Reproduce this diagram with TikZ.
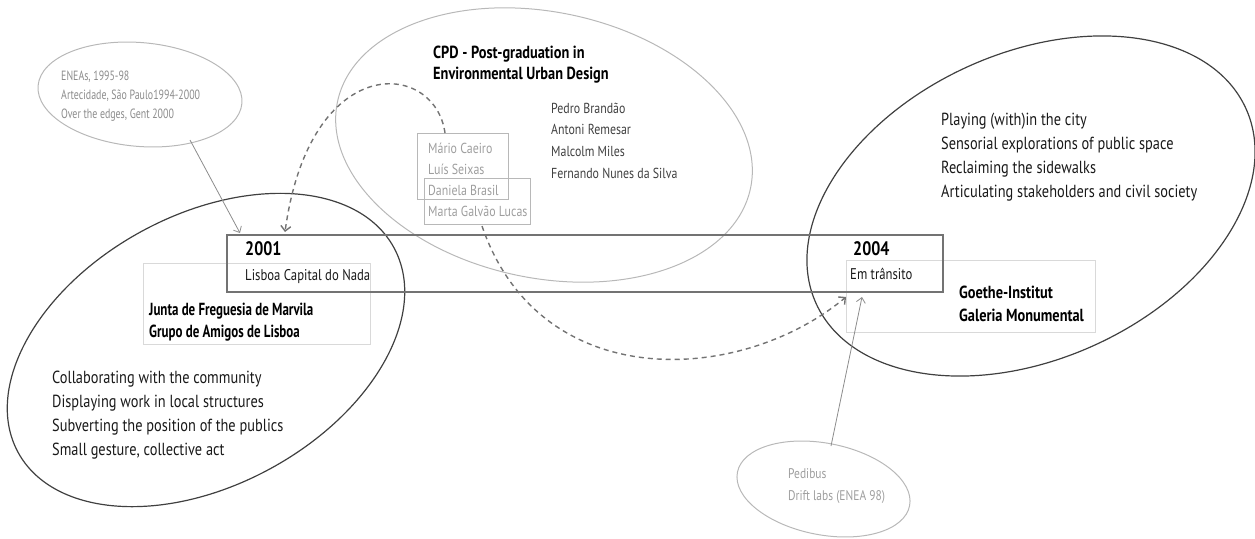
\documentclass[tikz,border=0pt]{standalone}
\usepackage{fontspec}
\setmainfont{PT Sans}[FakeStretch=0.82]
\newfontfamily\condfont{PT Sans}[FakeStretch=0.74]
\usetikzlibrary{shapes.geometric,arrows.meta}

\definecolor{inkdark}{gray}{0.1}
\definecolor{ringdark}{gray}{0.25}
\definecolor{framemid}{gray}{0.45}
\definecolor{ringlight}{gray}{0.72}
\definecolor{boxpale}{gray}{0.85}
\definecolor{textsoft}{gray}{0.55}
\definecolor{textpale}{gray}{0.62}
\definecolor{namesink}{gray}{0.25}

\newcommand{\stack}[1]{\begin{tabular}[t]{@{}l@{}}#1\end{tabular}}

\tikzset{
  ring/.style={ellipse, draw, inner sep=0pt, outer sep=0pt},
  darkring/.style={ring, draw=ringdark, line width=1.2pt},
  lightring/.style={ring, draw=ringlight, line width=1pt},
  frame/.style={draw=framemid, line width=1.4pt},
  palebox/.style={draw=boxpale, line width=1pt},
  namebox/.style={draw=ringlight, line width=1pt},
  txt/.style={anchor=base west, inner sep=0pt, align=left},
  link/.style={draw=textsoft, line width=0.8pt, -{Straight Barb[length=5pt,width=9pt]}},
  dashlink/.style={draw=framemid, line width=1.4pt, dash pattern=on 5pt off 4pt,
                   -{Straight Barb[length=5pt,width=10pt]}}
}

\begin{document}
\begin{tikzpicture}[x=1pt,y=-1pt]
\useasboundingbox (0,0) rectangle (1255,538);

% outline ellipses
\node[lightring, minimum width=204.6pt, minimum height=103.8pt, rotate=-5] (enea) at (140,94.5) {};
\node[lightring, minimum width=422pt, minimum height=266pt, rotate=-11.8] (cpd) at (544,145) {};
\node[darkring, minimum width=428pt, minimum height=270pt, rotate=28.6] (marvila) at (206,350) {};
\node[darkring, minimum width=472pt, minimum height=306pt, rotate=24.4] (goethe) at (1031,206) {};
\node[lightring, minimum width=175.4pt, minimum height=91.6pt, rotate=-11] (pedibus) at (823.5,489) {};

% boxes
\draw[palebox] (143,263) rectangle (370,344);
\draw[palebox] (846,260) rectangle (1095,332);
\draw[frame] (227,235) rectangle (943,292);
\draw[namebox] (417,133) rectangle (508,199);
\draw[namebox] (424,178) rectangle (530,224);

% texts
\node[txt, text=textsoft, font=\condfont\fontsize{13.4}{19}\selectfont] (eneatext) at (61,80)
  {\stack{ENEAs, 1995-98\\Artecidade, São Paulo1994-2000\\Over the edges, Gent 2000}};
\node[txt, text=black, font=\fontsize{17.5}{21}\selectfont\bfseries] (cpdtitle) at (433,58)
  {\stack{CPD - Post-graduation in\\Environmental Urban Design}};
\node[txt, text=namesink, font=\fontsize{14.5}{21.7}\selectfont] (cpdnames) at (551,113)
  {\stack{Pedro Brandão\\Antoni Remesar\\Malcolm Miles\\Fernando Nunes da Silva}};
\node[txt, text=textpale, font=\fontsize{14.5}{21}\selectfont] (links) at (428,153)
  {\stack{Mário Caeiro\\Luís Seixas\\Daniela Brasil\\Marta Galvão Lucas}};

\node[txt, font=\fontsize{19.5}{20}\selectfont\bfseries] (y2001) at (245,255) {2001};
\node[txt, text=inkdark, font=\fontsize{15.5}{20}\selectfont] (lisboa) at (245,280) {Lisboa Capital do Nada};
\node[txt, font=\fontsize{19.5}{20}\selectfont\bfseries] (y2004) at (853,255) {2004};
\node[txt, text=inkdark, font=\fontsize{15.5}{20}\selectfont] (transito) at (850,279) {Em trânsito};

\node[txt, font=\condfont\fontsize{17.5}{22}\selectfont\bfseries] (junta) at (149,315)
  {\stack{Junta de Freguesia de Marvila\\Grupo de Amigos de Lisboa}};
\node[txt, font=\fontsize{17.5}{23}\selectfont\bfseries] (gi) at (959,298)
  {\stack{Goethe-Institut\\Galeria Monumental}};

\node[txt, text=inkdark, font=\fontsize{17.5}{24}\selectfont] (play) at (941,125)
  {\stack{Playing (with)in the city\\Sensorial explorations of public space\\Reclaiming the sidewalks\\Articulating stakeholders and civil society}};
\node[txt, text=inkdark, font=\fontsize{17.5}{24}\selectfont] (collab) at (52,383)
  {\stack{Collaborating with the community\\Displaying work in local structures\\Subverting the position of the publics\\Small gesture, collective act}};

\node[txt, text=textpale, font=\fontsize{14}{22}\selectfont] (pedtext) at (788,478)
  {\stack{Pedibus\\Drift labs (ENEA 98)}};

% connector end points
\coordinate (eneaOut) at (190,140);
\coordinate (in2001a) at (240,233);
\coordinate (in2001b) at (285,232);
\coordinate (namesTop) at (445,133);
\coordinate (namesBot) at (482,226);
\coordinate (in2004a) at (846,297);
\coordinate (in2004b) at (862,297);
\coordinate (pedOut) at (831,446);

% connectors
\draw[link] (eneaOut) -- (in2001a);
\draw[link] (pedOut) -- (in2004b);
\draw[dashlink] (namesTop) .. controls (435,60) and (310,50) .. (in2001b);
\draw[dashlink] (namesBot) .. controls (540,395) and (740,385) .. (in2004a);
\end{tikzpicture}
\end{document}
